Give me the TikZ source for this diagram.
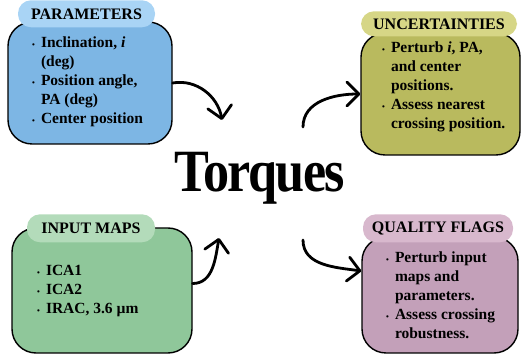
\documentclass[tikz,border=0pt]{standalone}
\usepackage{fontspec}
\setmainfont{Liberation Serif}
\usetikzlibrary{positioning,arrows.meta}
\definecolor{SkyPanel}{RGB}{125,182,228}
\definecolor{SkyTag}{RGB}{169,212,245}
\definecolor{OlivePanel}{RGB}{185,186,94}
\definecolor{OliveTag}{RGB}{214,214,134}
\definecolor{SagePanel}{RGB}{143,199,154}
\definecolor{SageTag}{RGB}{179,219,186}
\definecolor{MauvePanel}{RGB}{195,160,185}
\definecolor{MauveTag}{RGB}{216,184,205}
\tikzset{
  panel/.style={
    draw=black, line width=1.4pt,
    fill=#1,
    rounded corners=24pt,
    inner sep=0pt
  },
  panel tag/.style={
    fill=#1,
    rounded corners=13pt,
    inner sep=0pt,
    font=\fontsize{16}{19}\selectfont\bfseries
  },
  panel text/.style={
    anchor=west, inner sep=0pt,
    font=\fontsize{15.5}{19}\selectfont\bfseries
  },
  flow/.style={
    line width=2.8pt, line cap=round,
    -{Straight Barb[length=12pt,width=24pt,line join=round,line cap=round]}
  },
}
\newcommand{\dotbullet}{{\footnotesize\textbullet}}

\begin{document}
\begin{tikzpicture}[x=1pt,y=1pt]
  \useasboundingbox (0,0) rectangle (522,361);
  % the four panels
  \node[panel=SkyPanel, minimum width=164pt, minimum height=122pt] (params) at (90,278) {};
  \node[panel=OlivePanel, minimum width=159pt, minimum height=122pt] (uncert) at (440.5,267) {};
  \node[panel=SagePanel, minimum width=180pt, minimum height=125pt] (maps) at (102,70.5) {};
  \node[panel=MauvePanel, minimum width=156pt, minimum height=116pt] (flags) at (440,66) {};
  % their titles
  \node[panel tag=SkyTag, minimum width=137pt, minimum height=27pt] (params tag)
    at ([xshift=-3.5pt,yshift=7.5pt]params.north) {PARAMETERS};
  \node[panel tag=OliveTag, minimum width=156pt, minimum height=25pt] (uncert tag)
    at ([xshift=-1.5pt,yshift=8.5pt]uncert.north) {UNCERTAINTIES};
  \node[panel tag=SageTag, minimum width=128pt, minimum height=28pt] (maps tag)
    at ([xshift=-11pt,yshift=-1pt]maps.north) {INPUT MAPS};
  \node[panel tag=MauveTag, minimum width=150pt, minimum height=28pt] (flags tag)
    at ([xshift=-2pt,yshift=8pt]flags.north) {QUALITY FLAGS};
  % the lists
  \node[panel text] (params list) at (32,279) {%
    \begin{tabular}{@{}c@{\hspace{6pt}}l@{}}
      \dotbullet & Inclination, \textit{i}\\
                 & (deg)\\
      \dotbullet & Position angle,\\
                 & PA (deg)\\
      \dotbullet & Center position
    \end{tabular}};
  \node[panel text] (uncert list) at (382,274.5) {%
    \begin{tabular}{@{}c@{\hspace{6pt}}l@{}}
      \dotbullet & Perturb \textit{i}, PA,\\
                 & and center\\
                 & positions.\\
      \dotbullet & Assess nearest\\
                 & crossing position.
    \end{tabular}};
  \node[panel text] (maps list) at (37,70) {%
    \begin{tabular}{@{}c@{\hspace{6pt}}l@{}}
      \dotbullet & ICA1\\
      \dotbullet & ICA2\\
      \dotbullet & IRAC, 3.6 µm
    \end{tabular}};
  \node[panel text] (flags list) at (386,64.5) {%
    \begin{tabular}{@{}c@{\hspace{6pt}}l@{}}
      \dotbullet & Perturb input\\
                 & maps and\\
                 & parameters.\\
      \dotbullet & Assess crossing\\
                 & robustness.
    \end{tabular}};
  % centre word
  \node[anchor=base, inner sep=0pt,
        font=\fontsize{60}{60}\selectfont\bfseries\addfontfeature{LetterSpace=-3}]
    (torques) at (260,169) {\scalebox{0.87}[1]{Torques}};
  % arrows
  \coordinate (params end) at (222,241);
  \coordinate (uncert start) at (303,234);
  \coordinate (maps end) at (219,123);
  \coordinate (flags start) at (303,121);
  \draw[flow] (params.east) to[out=10,in=100] (params end);
  \draw[flow] (uncert start) to[out=90,in=180] (uncert.west);
  \draw[flow] ([yshift=7pt]maps.east) to[out=0,in=-100] (maps end);
  \draw[flow] (flags start) to[out=-90,in=172] ([yshift=24pt]flags.west);
\end{tikzpicture}
\end{document}
